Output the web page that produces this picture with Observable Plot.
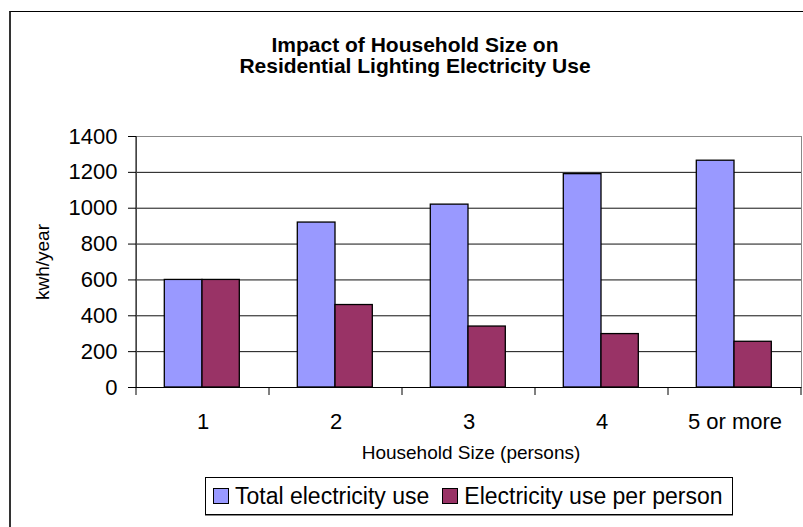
<!DOCTYPE html>
<html>
<head>
<meta charset="utf-8">
<script src="https://cdn.jsdelivr.net/npm/d3@7"></script>
<script src="https://cdn.jsdelivr.net/npm/@observablehq/plot@0.6"></script>
<style>
  html, body { margin: 0; padding: 0; background: #fff; }
  #wrap { position: relative; width: 803px; height: 527px; overflow: hidden; background: #fff;
          font-family: "Liberation Sans", Arial, sans-serif; color: #000; }
  #border { position: absolute; left: 9px; top: 11px; width: 820px; height: 600px;
            border-left: 2px solid #333; border-top: 1px solid #000; }
  #title { position: absolute; left: 0; top: 34px; width: 830px; text-align: center;
           font-weight: bold; font-size: 21px; line-height: 21px; }
  #chart { position: absolute; left: 0; top: 0; }
  #legend { position: absolute; left: 205px; top: 477px; width: 519px; height: 36px;
            border: 1px solid #000; box-shadow: 0 1px 0 #888; background: #fff;
            display: flex; align-items: center; padding-left: 7px; box-sizing: content-box;
            font-size: 23px; white-space: nowrap; }
  .sw { width: 14px; height: 14px; border: 1px solid #000; display: inline-block; margin-right: 6px; }
  .item { display: flex; align-items: center; }
  .item + .item { margin-left: 13px; }
</style>
</head>
<body>
<div id="wrap">
  <div id="border"></div>
  <div id="title"></div>
  <div id="chart"></div>
  <div id="legend"></div>
</div>
<script>
const chartTitle = ["Impact of Household Size on", "Residential Lighting Electricity Use"];
const categories = ["1", "2", "3", "4", "5 or more"];
const seriesNames = ["Total electricity use", "Electricity use per person"];
const totalUse = [600, 920, 1020, 1190, 1265];
const perPersonUse = [600, 460, 340, 298, 255];
const yTicks = [0, 200, 400, 600, 800, 1000, 1200, 1400];
const seriesColors = ["#9999FF", "#993366"];
const xTitle = "Household Size (persons)";
const yTitle = "kwh/year";

const titleEl = document.getElementById("title");
chartTitle.forEach((line, i) => {
  if (i) titleEl.appendChild(document.createElement("br"));
  titleEl.appendChild(document.createTextNode(line));
});

const totalRows = categories.map((c, i) => ({size: c, series: seriesNames[0], value: totalUse[i]}));
const perRows = categories.map((c, i) => ({size: c, series: seriesNames[1], value: perPersonUse[i]}));

const chart = Plot.plot({
  width: 803,
  height: 527,
  marginLeft: 136,
  marginRight: 2,
  marginTop: 136,
  marginBottom: 140,
  style: {fontFamily: "'Liberation Sans', Arial, sans-serif", background: "transparent", color: "#000"},
  x: {type: "band", domain: categories, padding: 0, axis: null},
  y: {domain: [0, 1400], axis: null},
  marks: [
    Plot.gridY(yTicks.filter(v => v > 0 && v < 1400), {stroke: "#111", strokeOpacity: 1}),
    Plot.frame({stroke: "#888"}),
    Plot.barY(totalRows, {x: "size", y: "value", fill: seriesColors[0], stroke: "#000", strokeWidth: 1.3, insetLeft: 28.3, insetRight: 67}),
    Plot.barY(perRows, {x: "size", y: "value", fill: seriesColors[1], stroke: "#000", strokeWidth: 1.3, insetLeft: 66, insetRight: 29.7}),
    Plot.ruleY([0], {stroke: "#000"}),
    Plot.axisY({ticks: yTicks, tickSize: 8, tickPadding: 11, fontSize: 22, label: null, tickFormat: d => String(d)}),
    Plot.axisX({tickSize: 0, tickPadding: 26, fontSize: 22, label: null}),
    Plot.text([yTitle], {frameAnchor: "left", textAnchor: "middle", rotate: -90, dx: -94, fontSize: 19}),
    Plot.text([xTitle], {frameAnchor: "bottom", lineAnchor: "top", dy: 58, dx: 2, fontSize: 19})
  ]
});

// left axis line and category boundary ticks, positioned with the chart's own scales
const xs = chart.scale("x"), ys = chart.scale("y");
const svg = d3.select(chart);
const y0 = ys.apply(0), yTop = ys.apply(1400);
const xLeft = xs.apply(categories[0]);
const bounds = categories.map(c => xs.apply(c)).concat([xs.apply(categories[categories.length - 1]) + xs.bandwidth]);
const g = svg.append("g").attr("stroke", "#000").attr("stroke-width", 1);
g.append("line").attr("x1", xLeft).attr("x2", xLeft).attr("y1", yTop).attr("y2", y0 + 0.5);
bounds.forEach(b => g.append("line").attr("x1", b).attr("x2", b).attr("y1", y0).attr("y2", y0 + 8));

document.getElementById("chart").appendChild(chart);

const legend = document.getElementById("legend");
seriesNames.forEach((name, i) => {
  const item = document.createElement("div");
  item.className = "item";
  const sw = document.createElement("span");
  sw.className = "sw";
  sw.style.background = seriesColors[i];
  const label = document.createElement("span");
  label.textContent = name;
  item.appendChild(sw);
  item.appendChild(label);
  legend.appendChild(item);
});
</script>
</body>
</html>
